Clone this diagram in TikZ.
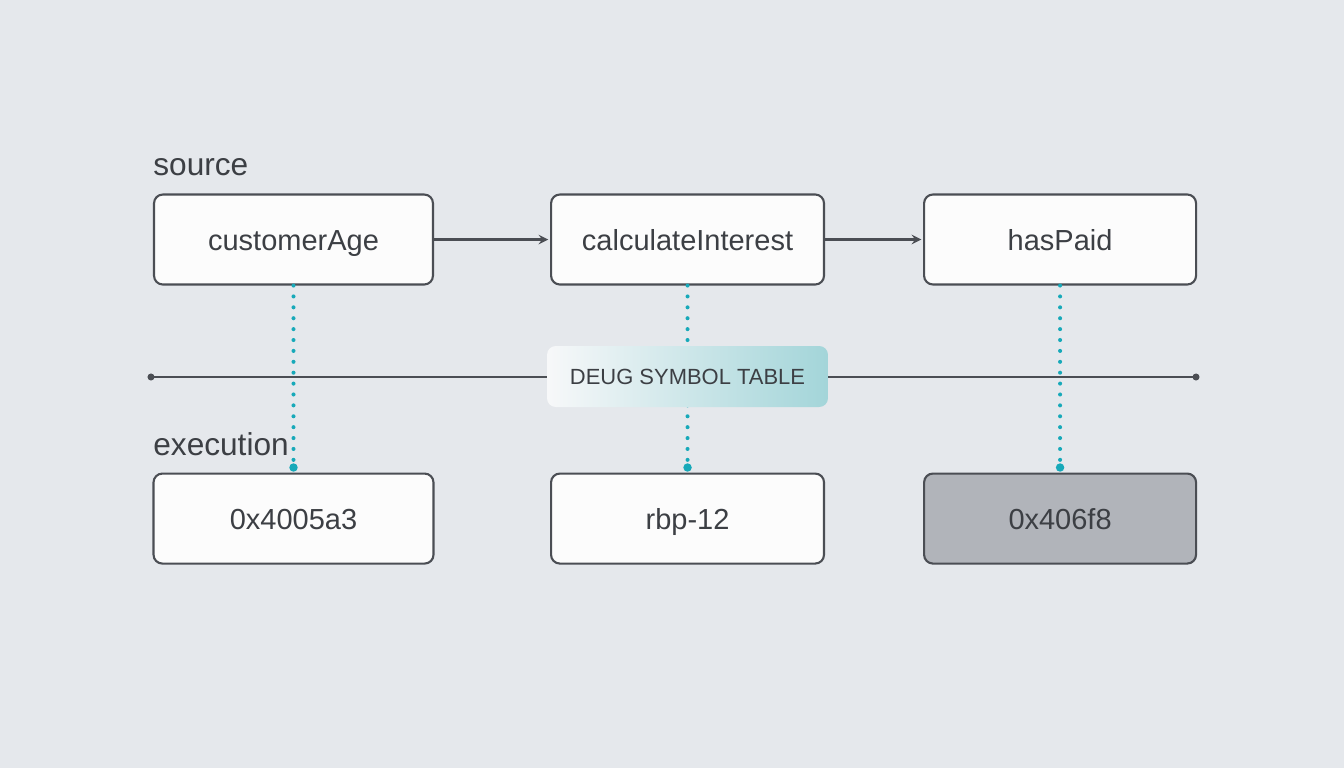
\documentclass[tikz,border=0pt]{standalone}
\usepackage{fontspec}
\setmainfont{Liberation Sans}
\usetikzlibrary{positioning}
\definecolor{bgcol}{HTML}{E5E8EC}
\definecolor{ink}{HTML}{3C3F44}
\definecolor{edge}{HTML}{4B4E54}
\definecolor{boxfill}{HTML}{FCFCFC}
\definecolor{hitfill}{HTML}{B1B4BA}
\definecolor{dotteal}{HTML}{17A9B9}
\definecolor{tealsoft}{HTML}{A3D5D9}
\begin{document}
\begin{tikzpicture}[x=0.02cm,y=-0.02cm,line join=round,line cap=round,>=stealth,
    box/.style={draw=edge,line width=1.2pt,rounded corners=5pt,fill=boxfill,text=ink,
      minimum width=5.58cm,minimum height=1.8cm,text height=13pt,text depth=1pt,
      font=\fontsize{16.5}{19}\selectfont},
    tag/.style={anchor=base west,inner sep=0pt,text=ink,font=\fontsize{18}{21}\selectfont},
    link/.style={draw=dotteal,line width=2.3pt,dash pattern=on 0pt off 6.2pt},
    flow/.style={->,draw=edge,line width=1.4pt,shorten >=1pt}]
    \useasboundingbox[fill=bgcol] (0,0) rectangle (1344,768);
    % source row
    \node[tag] (srcTag) at (153,175) {source};
    \node[box] (custAge) at (293.5,239.5) {customerAge};
    \node[box,minimum width=5.46cm,right=2.32cm of custAge] (calcInt) {calculateInterest};
    \node[box,minimum width=5.44cm,right=1.96cm of calcInt] (hasPaid) {hasPaid};
    % execution row
    \node[tag] (exeTag) at (153,455) {execution};
    \node[box,minimum width=5.6cm,below=3.74cm of custAge] (addrA) {0x4005a3};
    \node[box,minimum width=5.46cm,below=3.74cm of calcInt] (rbpOff) {rbp-12};
    \node[box,minimum width=5.44cm,below=3.74cm of hasPaid,fill=hitfill] (addrB) {0x406f8};
    \draw[flow] (custAge) -- (calcInt);
    \draw[flow] (calcInt) -- (hasPaid);
    % symbol table line
    \coordinate (tblL) at (151,377);
    \coordinate (tblR) at (1196,377);
    \draw[edge,line width=1.2pt] (tblL) -- (tblR);
    \fill[edge] (tblL) circle(2pt) (tblR) circle(2pt);
    % mappings
    \foreach \up/\dn in {custAge/addrA,calcInt/rbpOff,hasPaid/addrB}{
      \coordinate (\dn-pin) at ([yshift=0.1cm]\dn.north);
      \draw[link] (\up.south) -- (\dn-pin);
      \fill[dotteal] (\dn-pin) circle(2.4pt);
    }
    \node[rounded corners=5pt,left color=white!70!bgcol,right color=tealsoft,
      minimum width=5.62cm,minimum height=1.22cm,text=ink,
      font=\fontsize{12.5}{15}\selectfont] (symTab) at (687.5,376.5) {DEUG SYMBOL TABLE};
\end{tikzpicture}
\end{document}
